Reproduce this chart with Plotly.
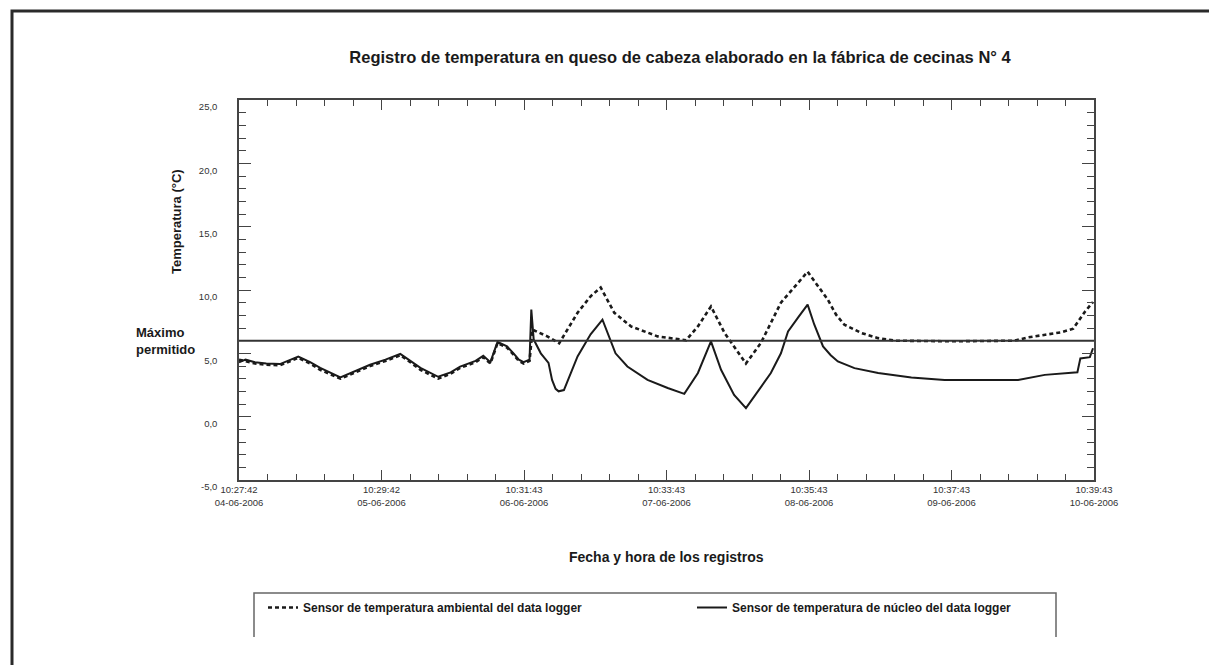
import pandas as pd
import plotly.graph_objects as go

# ---------------- data ----------------
START = "2006-06-04 10:27:42"
tick_times = ["2006-06-04 10:27:42", "2006-06-05 10:29:42", "2006-06-06 10:31:43",
              "2006-06-07 10:33:43", "2006-06-08 10:35:43", "2006-06-09 10:37:43",
              "2006-06-10 10:39:43"]
tick_labels = ["10:27:42<br>04-06-2006", "10:29:42<br>05-06-2006", "10:31:43<br>06-06-2006",
               "10:33:43<br>07-06-2006", "10:35:43<br>08-06-2006", "10:37:43<br>09-06-2006",
               "10:39:43<br>10-06-2006"]

# hours elapsed since START
core_hours = [0, 1.1, 2.7, 4.6, 6.9, 10.0, 12.0, 13.7, 17.1, 19.6, 22.1, 24.7, 27.2, 28.9,
              30.6, 33.6, 35.7, 37.3, 39.9, 41.2, 42.4, 43.6, 45.2, 46.3, 47.2, 48.0, 48.7,
              49.0, 49.3, 49.7, 50.9, 52.2, 52.8, 53.4, 53.9, 54.8, 57.1, 59.3, 61.3, 62.4,
              63.5, 65.5, 68.9, 72.3, 75.1, 77.4, 79.6, 81.3, 83.5, 85.5, 86.9, 89.7, 91.4,
              92.6, 94.4, 95.9, 97.0, 98.5, 99.8, 101.0, 103.8, 107.8, 113.4, 119.0, 124.7,
              131.4, 135.9, 140.7, 141.4, 141.9, 143.5, 144.03]
core_temp = [4.3, 4.5, 4.3, 4.2, 4.15, 4.75, 4.3, 3.85, 3.1, 3.6, 4.1, 4.5, 4.95, 4.4,
             3.85, 3.15, 3.5, 3.95, 4.4, 4.8, 4.3, 5.9, 5.55, 5.0, 4.5, 4.3, 4.4,
             4.5, 8.45, 6.1, 5.0, 4.25, 2.9, 2.2, 2.0, 2.1, 4.76, 6.5, 7.66, 6.3,
             5.0, 3.96, 2.9, 2.26, 1.8, 3.45, 5.94, 3.7, 1.72, 0.67, 1.6, 3.45, 5.0,
             6.73, 7.9, 8.85, 7.3, 5.55, 4.85, 4.36, 3.83, 3.44, 3.1, 2.9, 2.9,
             2.9, 3.3, 3.44, 3.5, 4.6, 4.7, 5.4]

amb_hours = [0, 1.1, 2.7, 4.6, 6.9, 10.0, 12.0, 13.7, 17.1, 19.6, 22.1, 24.7, 27.2, 28.9,
             30.6, 33.6, 35.7, 37.3, 39.9, 41.2, 42.4, 43.6, 45.2, 46.3, 47.2, 48.0, 48.7,
             49.0, 49.5, 52.0, 54.0, 57.1, 59.3, 61.0, 63.3, 66.1, 70.6, 75.4, 77.4, 79.6,
             81.9, 85.5, 88.0, 91.4, 95.9, 99.3, 100.7, 102.1, 105.0, 107.8, 110.6, 120.2,
             130.8, 133.1, 136.0, 138.7, 140.7, 142.7, 144.03]
amb_temp = [4.5, 4.4, 4.2, 4.1, 4.05, 4.65, 4.2, 3.7, 3.0, 3.5, 4.0, 4.4, 4.85, 4.3,
            3.7, 3.0, 3.4, 3.85, 4.3, 4.7, 4.2, 5.8, 5.45, 4.9, 4.4, 4.2, 4.3,
            4.4, 6.87, 6.34, 5.8, 8.2, 9.5, 10.2, 8.2, 7.13, 6.34, 6.03, 7.13, 8.7,
            6.6, 4.2, 5.8, 9.0, 11.44, 9.24, 8.05, 7.26, 6.6, 6.2, 6.0, 5.95,
            6.0, 6.26, 6.47, 6.66, 6.95, 8.3, 9.05]

MAX_PERMITIDO = 6.0
y_ticks = [-5, 0, 5, 10, 15, 20, 25]

# ---------------- figure ----------------
start = pd.Timestamp(START)
core_x = start + pd.to_timedelta(core_hours, unit="h")
amb_x = start + pd.to_timedelta(amb_hours, unit="h")

major = pd.to_datetime(tick_times)
minor_vals = []
for a, b in zip(major[:-1], major[1:]):
    for k in range(1, 5):
        minor_vals.append(a + (b - a) * k / 5)

fig = go.Figure()
fig.add_trace(go.Scatter(x=amb_x, y=amb_temp, mode="lines",
                         name="<b>Sensor de temperatura ambiental del data logger</b>",
                         line=dict(color="#1a1a1a", width=2.6, dash="4px,3px")))
fig.add_trace(go.Scatter(x=core_x, y=core_temp, mode="lines",
                         name="<b>Sensor de temperatura de núcleo del data logger</b>",
                         line=dict(color="#1a1a1a", width=2)))
fig.add_hline(y=MAX_PERMITIDO, line=dict(color="#333333", width=2))

# page offset (body margin) and geometry
OFF = 8
W, H = 1209, 657
L, R, T, B = 231, 123, 92, 185
PW, PH = W - L - R, H - T - B


def px(xpage):
    return (xpage - OFF - L) / PW


def py(ypage):
    return (H - (ypage - OFF) - B) / PH


font = "Liberation Sans, Arial, sans-serif"

fig.update_layout(
    width=W, height=H,
    margin=dict(l=L, r=R, t=T, b=B),
    paper_bgcolor="white", plot_bgcolor="white",
    font=dict(family=font, color="#222222"),
    title=dict(text="<b>Registro de temperatura en queso de cabeza elaborado en la fábrica de cecinas N° 4</b>",
               x=(680 - OFF) / W, xanchor="center", y=1 - (57 - OFF) / H, yanchor="middle",
               font=dict(size=16.5, color="#1a1a1a")),
    showlegend=True,
    legend=dict(orientation="h", x=px(263), xanchor="left", y=py(593), yanchor="top",
                font=dict(size=12, color="#1a1a1a"), entrywidth=384,
                bgcolor="rgba(0,0,0,0)", borderwidth=0),
)

fig.update_xaxes(
    type="date",
    range=[major[0], major[-1]],
    tickmode="array", tickvals=list(major), ticktext=tick_labels,
    ticks="inside", ticklen=10, tickwidth=1.2, tickcolor="#444444",
    showline=True, linecolor="#444444", linewidth=1.5, mirror="ticks",
    showgrid=False, zeroline=False,
    tickfont=dict(size=9.5, color="#333333"),
    minor=dict(tickmode="array", tickvals=minor_vals, ticks="inside", ticklen=6,
               tickwidth=1, tickcolor="#444444", showgrid=False),
)
fig.update_yaxes(
    range=[-5, 25],
    tickmode="array", tickvals=y_ticks,
    ticktext=[f"{v:.1f}".replace(".", ",") for v in y_ticks],
    ticks="inside", ticklen=12, tickwidth=1.2, tickcolor="#444444",
    showline=True, linecolor="#444444", linewidth=1.5, mirror="ticks",
    showgrid=False, zeroline=False,
    tickfont=dict(size=9.5, color="#333333"),
    ticklabelstandoff=18, ticklabelshift=7,
    minor=dict(dtick=1, ticks="inside", ticklen=7, tickwidth=1,
               tickcolor="#444444", showgrid=False),
)

# axis titles and side label
fig.add_annotation(text="<b>Fecha y hora de los registros</b>", xref="paper", yref="paper",
                   x=px(666), y=py(557), xanchor="center", yanchor="middle", showarrow=False,
                   font=dict(size=14, color="#1a1a1a"))
fig.add_annotation(text="<b>Temperatura (°C)</b>", xref="paper", yref="paper",
                   x=px(176), y=py(222), xanchor="center", yanchor="middle", textangle=-90,
                   showarrow=False, font=dict(size=13, color="#1a1a1a"))
fig.add_annotation(text="<b>Máximo<br>permitido</b>", xref="paper", yref="paper",
                   x=px(134), y=py(341), xanchor="left", yanchor="middle", align="left",
                   showarrow=False, font=dict(size=13, color="#1a1a1a"))

# legend box (open at the bottom) and outer frame
fig.add_shape(type="path", xref="paper", yref="paper",
              path=f"M {px(254)},{py(637)} L {px(254)},{py(593)} L {px(1056)},{py(593)} L {px(1056)},{py(637)}",
              line=dict(color="#666666", width=1.5))
fig.add_shape(type="rect", xref="paper", yref="paper",
              x0=px(12), x1=px(1215), y0=py(720), y1=py(11),
              line=dict(color="#2a2a2a", width=3), fillcolor="rgba(0,0,0,0)")

fig.write_html("out.html")
